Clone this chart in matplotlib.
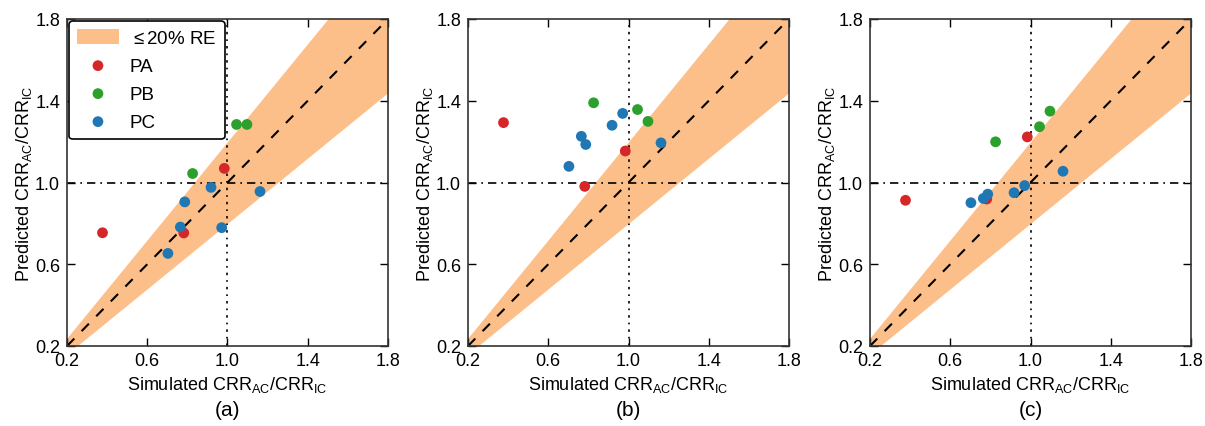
import matplotlib
matplotlib.use("Agg")
import matplotlib.pyplot as plt
import numpy as np

plt.rcParams['font.family'] = ['Liberation Sans', 'DejaVu Sans']
plt.rcParams['mathtext.fontset'] = 'custom'
plt.rcParams['mathtext.rm'] = 'Liberation Sans'
plt.rcParams['mathtext.it'] = 'Liberation Sans:italic'
plt.rcParams['mathtext.sf'] = 'Liberation Sans'

# Simulated values (x), shared by all panels
sim_PA = [0.377, 0.782, 0.984]
sim_PB = [0.826, 1.045, 1.097]
sim_PC = [0.703, 0.765, 0.787, 0.918, 0.971, 1.162]

# Predicted values (y) per panel
pred_PA = [[0.754, 0.753, 1.069], [1.293, 0.981, 1.154], [0.913, 0.919, 1.223]]
pred_PB = [[1.044, 1.284, 1.284], [1.390, 1.357, 1.299], [1.199, 1.273, 1.349]]
pred_PC = [[0.653, 0.782, 0.905, 0.976, 0.779, 0.956],
           [1.079, 1.226, 1.186, 1.280, 1.338, 1.194],
           [0.901, 0.922, 0.943, 0.950, 0.985, 1.055]]

panel_labels = ['(a)', '(b)', '(c)']
ticks = [0.2, 0.6, 1.0, 1.4, 1.8]
tick_labels = ['0.2', '0.6', '1.0', '1.4', '1.8']
re_tol = 0.2

c_PA = '#d62728'
c_PB = '#2ca02c'
c_PC = '#1f77b4'
c_band = '#fdbf8a'

fig = plt.figure(figsize=(12.05, 4.27), dpi=100)
lefts = [67/1205, 468/1205, 870/1205]
w = 321/1205
b = 1 - 347/427
h = 327/427

xx = np.linspace(0.2, 1.8, 200)
for i in range(3):
    ax = fig.add_axes([lefts[i], b, w, h])
    ax.fill_between(xx, xx*(1-re_tol), xx*(1+re_tol), color=c_band,
                    linewidth=0, zorder=1, label=r'$\leq$20% RE')
    ax.plot([0.2, 1.8], [0.2, 1.8], 'k--', lw=1.5, dashes=(5, 5), zorder=2)
    ax.axhline(1.0, color='k', lw=1.2, ls=(0, (5, 3, 1, 3)), zorder=2)
    ax.axvline(1.0, color='k', lw=1.2, ls=(0, (1.5, 3, 1, 3)), zorder=2)
    ax.scatter(sim_PA, pred_PA[i], s=60, color=c_PA, zorder=3, label='PA', edgecolors='none')
    ax.scatter(sim_PB, pred_PB[i], s=60, color=c_PB, zorder=3, label='PB', edgecolors='none')
    ax.scatter(sim_PC, pred_PC[i], s=60, color=c_PC, zorder=3, label='PC', edgecolors='none')
    ax.set_xlim(0.2, 1.8)
    ax.set_ylim(0.2, 1.8)
    ax.set_xticks(ticks)
    ax.set_yticks(ticks)
    ax.set_xticklabels(tick_labels)
    ax.set_yticklabels(tick_labels)
    ax.tick_params(direction='in', top=True, right=True, length=6, width=1,
                   labelsize=13)
    ax.tick_params(axis='x', pad=4)
    ax.tick_params(axis='y', pad=5)
    for sp in ax.spines.values():
        sp.set_linewidth(1.2)
        sp.set_color('#333333')
    ax.set_xlabel(r'Simulated CRR$_{\mathrm{AC}}$/CRR$_{\mathrm{IC}}$', fontsize=13, labelpad=4)
    ax.set_ylabel(r'Predicted CRR$_{\mathrm{AC}}$/CRR$_{\mathrm{IC}}$', fontsize=13, labelpad=1)
    ax.text(0.5, -0.193, panel_labels[i], transform=ax.transAxes, ha='center',
            va='center', fontsize=15)
    if i == 0:
        leg = ax.legend(loc='upper left', fontsize=13.5, frameon=True, fancybox=True,
                        borderaxespad=0.1, scatterpoints=1, handlelength=2.2,
                        handleheight=0.8, labelspacing=0.55, borderpad=0.45,
                        handletextpad=0.6)
        leg.get_frame().set_edgecolor('black')
        leg.get_frame().set_linewidth(1.2)
        leg.get_frame().set_alpha(1)

fig.savefig('out.png', dpi=100)
